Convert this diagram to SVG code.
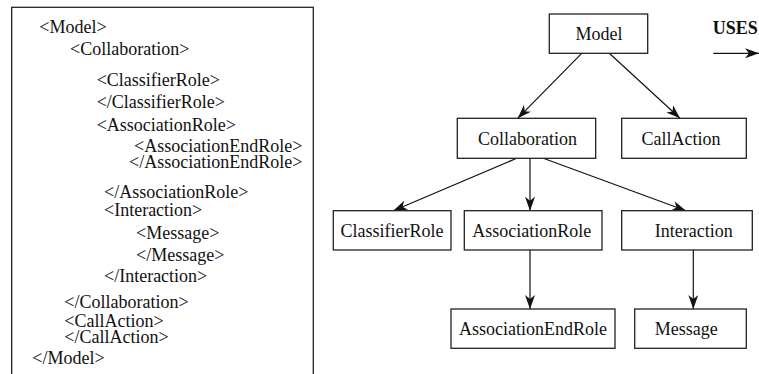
<svg xmlns="http://www.w3.org/2000/svg" width="759" height="374" viewBox="0 0 759 374" font-family="'Liberation Serif', 'Times New Roman', 'DejaVu Serif', serif">
<style>
text{font-family:'Liberation Serif','Times New Roman','DejaVu Serif',serif;font-size:18px;fill:#111}
.box{fill:#fff;stroke:#222;stroke-width:1.3}
.lbl{text-anchor:middle}
.edge{stroke:#111;stroke-width:1.2;fill:none;marker-end:url(#ah)}
.uses{font-weight:bold}
</style>
<defs>
<marker id="ah" markerUnits="userSpaceOnUse" markerWidth="14" markerHeight="10" viewBox="0 0 14 10" refX="14" refY="5" orient="auto">
<path d="M0,0 L14,5 L0,10 L4,5 z" fill="#111"/>
</marker>
</defs>
<g id="xml-listing">
<rect x="11.7" y="7.3" width="301.6" height="380" fill="none" stroke="#222" stroke-width="1.3"/>
<text x="39.3" y="33.3">&lt;Model&gt;</text>
<text x="70" y="55">&lt;Collaboration&gt;</text>
<text x="96.7" y="85.5">&lt;ClassifierRole&gt;</text>
<text x="96.7" y="108">&lt;/ClassifierRole&gt;</text>
<text x="96.7" y="130.5">&lt;AssociationRole&gt;</text>
<text x="134" y="151.7">&lt;AssociationEndRole&gt;</text>
<text x="129" y="168.3">&lt;/AssociationEndRole&gt;</text>
<text x="104" y="198.3">&lt;/AssociationRole&gt;</text>
<text x="104" y="216">&lt;Interaction&gt;</text>
<text x="136" y="239.3">&lt;Message&gt;</text>
<text x="136" y="261">&lt;/Message&gt;</text>
<text x="104" y="282.3">&lt;/Interaction&gt;</text>
<text x="64.3" y="307.7">&lt;/Collaboration&gt;</text>
<text x="64.3" y="326.7">&lt;CallAction&gt;</text>
<text x="64.3" y="343.3">&lt;/CallAction&gt;</text>
<text x="32.3" y="364.3">&lt;/Model&gt;</text>
</g>
<g id="connectors">
<line class="edge" x1="581.7" y1="53.3" x2="517.7" y2="118.3"/>
<line class="edge" x1="609.3" y1="53.3" x2="680" y2="118.3"/>
<line class="edge" x1="516.7" y1="158.3" x2="393.3" y2="210.7"/>
<line class="edge" x1="530" y1="158.3" x2="530" y2="210.7"/>
<line class="edge" x1="543.3" y1="158.3" x2="686" y2="210.7"/>
<line class="edge" x1="530" y1="250" x2="530" y2="309"/>
<line class="edge" x1="693.3" y1="250" x2="693.3" y2="309"/>
<line class="edge" x1="713.3" y1="53.3" x2="759" y2="53.3"/>
</g>
<g id="uses-label">
<text class="uses" x="712.7" y="34">USES</text>
</g>
<g id="node-model">
<rect class="box" x="549.3" y="14" width="98.4" height="39.3"/>
<text class="lbl" x="599" y="39.5">Model</text>
</g>
<g id="node-collaboration">
<rect class="box" x="457.3" y="118.3" width="138.4" height="40"/>
<text class="lbl" x="527.5" y="145">Collaboration</text>
</g>
<g id="node-callaction">
<rect class="box" x="621.7" y="118.3" width="124.6" height="40"/>
<text class="lbl" x="681" y="145">CallAction</text>
</g>
<g id="node-classifierrole">
<rect class="box" x="333.3" y="210.7" width="117.7" height="39.3"/>
<text class="lbl" x="392" y="237.3">ClassifierRole</text>
</g>
<g id="node-associationrole">
<rect class="box" x="464.3" y="210.7" width="137.7" height="39.3"/>
<text class="lbl" x="531.7" y="237.3">AssociationRole</text>
</g>
<g id="node-interaction">
<rect class="box" x="621.7" y="210.7" width="130.6" height="39.3"/>
<text class="lbl" x="693.8" y="237.3">Interaction</text>
</g>
<g id="node-associationendrole">
<rect class="box" x="451" y="309" width="164" height="39.3"/>
<text class="lbl" x="533" y="335">AssociationEndRole</text>
</g>
<g id="node-message">
<rect class="box" x="634.7" y="309" width="111.6" height="39.3"/>
<text class="lbl" x="686.3" y="335">Message</text>
</g>
</svg>
